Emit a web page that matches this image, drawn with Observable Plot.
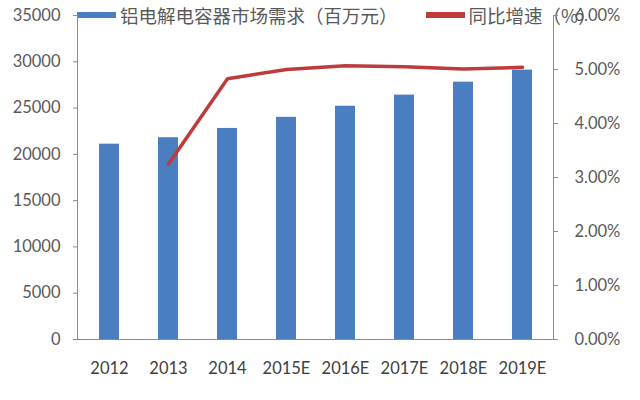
<!DOCTYPE html>
<html>
<head>
<meta charset="utf-8">
<script src="https://cdn.jsdelivr.net/npm/d3@7"></script>
<script src="https://cdn.jsdelivr.net/npm/@observablehq/plot@0.6"></script>
<style>
  body { margin: 0; background: #fff; }
  #wrap { position: relative; width: 640px; height: 400px; overflow: hidden; }
  #chart { position: relative; z-index: 1; }
  #legend { position: absolute; z-index: 0; top: 0; left: 77px; height: 30px;
    display: flex; align-items: center; white-space: nowrap;
    font-family: "Noto Sans CJK SC", "Noto Sans", sans-serif; font-size: 18.5px; color: #595959; }
  .sw { display: inline-block; width: 39px; height: 6px; margin-right: 4px; }
</style>
</head>
<body>
<div id="wrap"><div id="chart"></div><div id="legend"></div></div>
<script>
// ---- data ----
const years = ["2012", "2013", "2014", "2015E", "2016E", "2017E", "2018E", "2019E"];
const demand = [21100, 21800, 22800, 24000, 25200, 26400, 27800, 29100];   // 百万元
const growth = [null, 3.25, 4.83, 5.00, 5.07, 5.05, 5.01, 5.04];           // %
const leftTicks = [0, 5000, 10000, 15000, 20000, 25000, 30000, 35000];
const pctTicks = [0, 1, 2, 3, 4, 5, 6];
const seriesNames = ["铝电解电容器市场需求（百万元）", "同比增速（%）"];
const colors = ["#4A7EC0", "#BE3B3B"];
const leftMax = 35000, pctMax = 6;

const bars = years.map((y, i) => ({year: y, value: demand[i]}));
const line = years.map((y, i) => ({year: y, pct: growth[i]})).filter(d => d.pct != null);
const toLeft = p => p * leftMax / pctMax;

const chart = Plot.plot({
  width: 640,
  height: 400,
  marginLeft: 77,
  marginRight: 87,
  marginTop: 15,
  marginBottom: 61,
  style: {background: "transparent", fontFamily: "Lato, 'Open Sans', sans-serif", fontSize: "16.5px", color: "#595959"},
  x: {domain: years, paddingInner: 0.665, paddingOuter: 0.3325, label: null},
  y: {domain: [0, leftMax], label: null},
  marks: [
    Plot.barY(bars, {x: "year", y: "value", fill: colors[0]}),
    Plot.frame({anchor: "left", stroke: "#8c8c8c"}),
    Plot.frame({anchor: "right", stroke: "#8c8c8c"}),
    Plot.frame({anchor: "bottom", stroke: "#8c8c8c"}),
    Plot.line(line, {x: "year", y: d => toLeft(d.pct), stroke: colors[1], strokeWidth: 3.5, strokeLinejoin: "round"}),
    Plot.axisX({tickSize: 0, tickPadding: 23, label: null, fill: "#404040"}),
    Plot.axisY({anchor: "left", ticks: leftTicks, tickFormat: d => String(d), tickSize: 4, tickPadding: 13, label: null, stroke: "#8c8c8c", fill: "#595959"}),
    Plot.axisY({anchor: "right", ticks: pctTicks.map(toLeft), tickFormat: d => (d * pctMax / leftMax).toFixed(2) + "%", tickSize: 4, tickPadding: 17, label: null, stroke: "#8c8c8c", fill: "#595959"})
  ]
});
document.getElementById("chart").appendChild(chart);

const legend = document.getElementById("legend");
seriesNames.forEach((name, i) => {
  const item = document.createElement("span");
  item.style.display = "inline-flex";
  item.style.alignItems = "center";
  if (i > 0) item.style.marginLeft = "28px";
  const sw = document.createElement("span");
  sw.className = "sw";
  sw.style.background = colors[i];
  const t = document.createElement("span");
  t.textContent = name;
  item.appendChild(sw);
  item.appendChild(t);
  legend.appendChild(item);
});
</script>
</body>
</html>
